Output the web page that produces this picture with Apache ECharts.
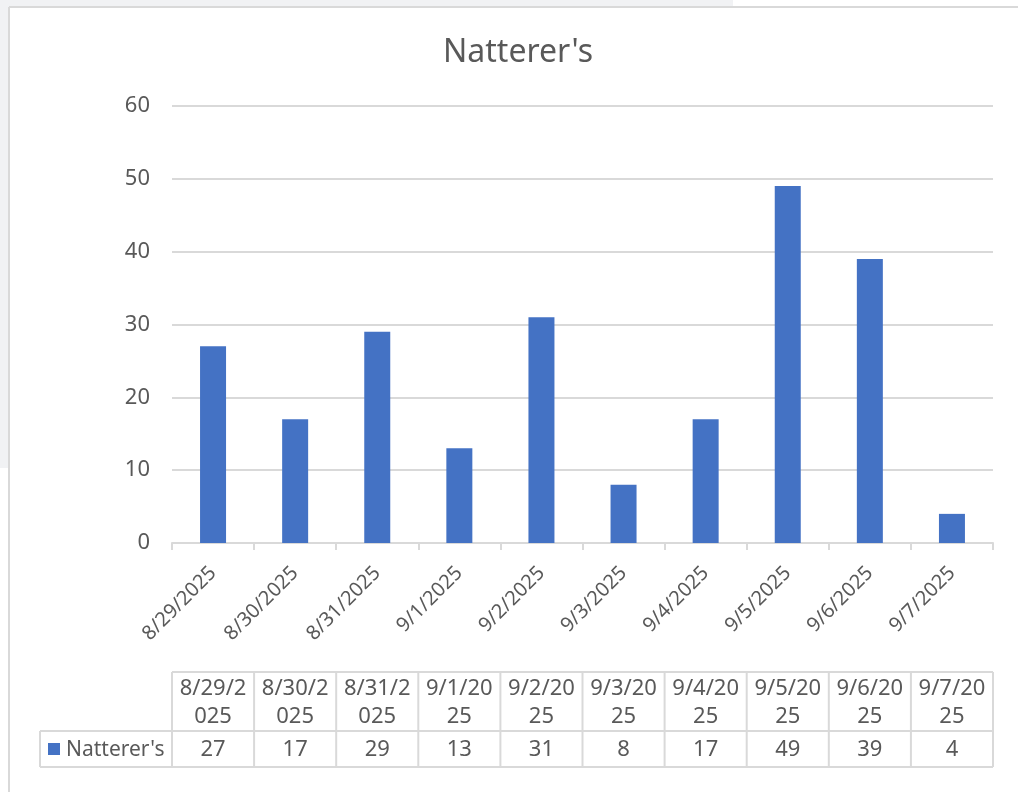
<!DOCTYPE html>
<html><head><meta charset="utf-8">
<script src="https://cdn.jsdelivr.net/npm/echarts@6/dist/echarts.min.js"></script>
<style>html,body{margin:0;padding:0;background:#fff}#c{width:1018px;height:792px}</style>
</head><body><div id="c"></div>
<script>
const chartTitle = "Natterer's";
const seriesName = "Natterer's";
const categories = ['8/29/2025','8/30/2025','8/31/2025','9/1/2025','9/2/2025','9/3/2025','9/4/2025','9/5/2025','9/6/2025','9/7/2025'];
const values = [27, 17, 29, 13, 31, 8, 17, 49, 39, 4];
const yMin = 0, yMax = 60, yStep = 10;

const FONT = 'Noto Sans';
const TXT = '#595959';
const LINE = '#d9d9d9';
const BAR = '#4472c4';

const chart = echarts.init(document.getElementById('c'), null, {renderer: 'canvas'});
const G = {left: 172, right: 25, top: 106, bottom: 249};

chart.setOption({
  animation: false,
  backgroundColor: '#ffffff',
  title: {text: chartTitle, left: 438, top: 32,
    textStyle: {fontFamily: FONT, fontSize: 32, fontWeight: 'normal', color: TXT}},
  grid: {left: G.left, right: G.right, top: G.top, bottom: G.bottom, containLabel: false},
  xAxis: {type: 'category', data: categories,
    axisLine: {lineStyle: {color: LINE, width: 2}},
    axisTick: {show: true, length: 7, lineStyle: {color: LINE, width: 2}},
    axisLabel: {rotate: 45, margin: 27, fontFamily: FONT, fontSize: 20, color: TXT, interval: 0}},
  yAxis: {type: 'value', min: yMin, max: yMax, interval: yStep,
    axisLine: {show: false}, axisTick: {show: false},
    axisLabel: {margin: 22, fontFamily: FONT, fontSize: 22, color: TXT},
    splitLine: {lineStyle: {color: LINE, width: 2}}},
  series: [{type: 'bar', name: seriesName, data: values, barWidth: 26,
    itemStyle: {color: BAR}}]
});

// Background frame + data table, positioned from the category axis scale
const els = [];
els.push({type: 'rect', z: -10, silent: true, shape: {x: 0, y: 0, width: 733, height: 7}, style: {fill: '#f1f2f4'}});
els.push({type: 'rect', z: -10, silent: true, shape: {x: 0, y: 0, width: 8, height: 468}, style: {fill: '#f1f2f4'}});
els.push({type: 'line', z: -9, silent: true, shape: {x1: 9, y1: 7, x2: 1018, y2: 7}, style: {stroke: LINE, lineWidth: 2}});
els.push({type: 'line', z: -9, silent: true, shape: {x1: 9, y1: 7, x2: 9, y2: 792}, style: {stroke: LINE, lineWidth: 2}});

const c0 = chart.convertToPixel({xAxisIndex: 0}, 0);
const c1 = chart.convertToPixel({xAxisIndex: 0}, 1);
const band = c1 - c0;
const left0 = c0 - band / 2;
const right0 = left0 + band * categories.length;
const tTop = 672, tMid = 731, tBot = 767, legLeft = 40;
const ls = {stroke: LINE, lineWidth: 2};
els.push({type: 'line', silent: true, shape: {x1: left0, y1: tTop, x2: right0, y2: tTop}, style: ls});
els.push({type: 'line', silent: true, shape: {x1: legLeft, y1: tMid, x2: right0, y2: tMid}, style: ls});
els.push({type: 'line', silent: true, shape: {x1: legLeft, y1: tBot, x2: right0, y2: tBot}, style: ls});
els.push({type: 'line', silent: true, shape: {x1: legLeft, y1: tMid, x2: legLeft, y2: tBot}, style: ls});
for (let i = 0; i <= categories.length; i++) {
  const x = left0 + band * i;
  els.push({type: 'line', silent: true, shape: {x1: x, y1: tTop, x2: x, y2: tBot}, style: ls});
}
categories.forEach((cat, i) => {
  const cx = chart.convertToPixel({xAxisIndex: 0}, i);
  const head = cat.slice(0, 6) + '\n' + cat.slice(6);
  els.push({type: 'text', silent: true, x: cx, y: (tTop + tMid) / 2 + 1,
    style: {text: head, fontFamily: FONT, fontSize: 22, fill: TXT, align: 'center', verticalAlign: 'middle', lineHeight: 28}});
  els.push({type: 'text', silent: true, x: cx, y: (tMid + tBot) / 2 + 1,
    style: {text: String(values[i]), fontFamily: FONT, fontSize: 22, fill: TXT, align: 'center', verticalAlign: 'middle'}});
});
els.push({type: 'rect', silent: true, shape: {x: 48, y: 743, width: 12, height: 12}, style: {fill: BAR}});
els.push({type: 'text', silent: true, x: 66, y: (tMid + tBot) / 2 + 1,
  style: {text: seriesName, fontFamily: FONT, fontSize: 21, fill: TXT, align: 'left', verticalAlign: 'middle'}});

chart.setOption({graphic: {elements: els}});
</script></body></html>
